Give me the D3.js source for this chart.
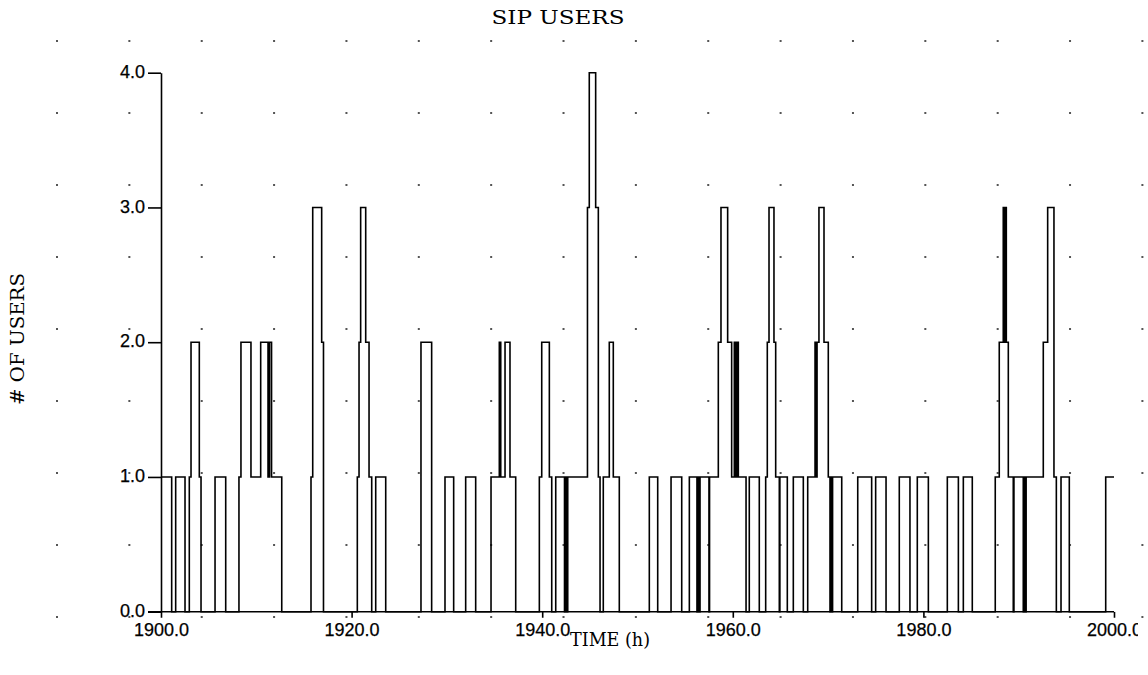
<!DOCTYPE html>
<html>
<head>
<meta charset="utf-8">
<script src="https://cdn.jsdelivr.net/npm/d3@7/dist/d3.min.js"></script>
<style>
  html, body { margin: 0; padding: 0; background: #fff; }
  svg { display: block; }
</style>
</head>
<body>
<svg id="chart" width="1148" height="675"></svg>
<script>
// ---- data ----
const titleText = "SIP USERS";
const xLabel = "TIME (h)";
const yLabel = "# OF USERS";
const xTicks = [1900, 1920, 1940, 1960, 1980, 2000];
const yTicks = [0, 1, 2, 3, 4];
const xDomain = [1900, 2000];
const yDomain = [0, 4];
// time at which the number of users changes, and the value from then on
const stepTime = [
  1900.00, 1901.12, 1901.54, 1902.52, 1902.97, 1903.15, 1904.02, 1904.20, 1905.67, 1906.79,
  1908.18, 1908.39, 1909.44, 1910.46, 1911.23, 1911.39, 1911.60, 1912.67, 1915.74, 1915.92,
  1916.86, 1917.05, 1920.60, 1920.78, 1920.95, 1921.48, 1921.83, 1922.11, 1922.53, 1923.58,
  1927.28, 1928.40, 1929.80, 1930.71, 1931.97, 1933.02, 1934.63, 1935.50, 1935.65, 1936.10,
  1936.62, 1937.22, 1939.70, 1939.95, 1940.75, 1941.00, 1941.42, 1942.34, 1942.47, 1942.57,
  1942.68, 1944.75, 1944.94, 1945.61, 1945.89, 1946.07, 1946.41, 1947.04, 1947.46, 1948.09,
  1951.24, 1952.12, 1953.52, 1954.64, 1955.44, 1956.24, 1956.37, 1956.47, 1956.56, 1957.50,
  1957.56, 1958.48, 1958.76, 1959.46, 1959.88, 1960.16, 1960.28, 1960.42, 1960.58, 1961.39,
  1961.73, 1962.78, 1963.45, 1963.62, 1963.80, 1964.32, 1964.50, 1964.88, 1964.94, 1965.72,
  1966.35, 1967.40, 1967.86, 1968.63, 1968.73, 1968.84, 1969.04, 1969.57, 1970.02, 1970.20,
  1970.31, 1970.41, 1970.47, 1971.43, 1973.11, 1974.57, 1974.99, 1976.08, 1977.47, 1978.59,
  1979.36, 1980.52, 1982.51, 1983.67, 1984.19, 1985.13, 1987.54, 1987.96, 1988.38, 1988.49,
  1988.59, 1988.70, 1988.91, 1989.43, 1989.50, 1990.48, 1990.59, 1990.69, 1990.78, 1992.58,
  1993.04, 1993.70, 1993.95, 1994.44, 1995.31, 1999.13, 2000.00
];
const stepUsers = [
  1, 0, 1, 0, 1, 2, 1, 0, 1, 0,
  1, 2, 1, 2, 1, 2, 1, 0, 1, 3,
  2, 0, 1, 2, 3, 2, 1, 0, 1, 0,
  2, 0, 1, 0, 1, 0, 1, 2, 1, 2,
  1, 0, 1, 2, 1, 0, 1, 0, 1, 0,
  1, 3, 4, 3, 1, 0, 1, 2, 1, 0,
  1, 0, 1, 0, 1, 0, 1, 0, 1, 0,
  1, 2, 3, 2, 1, 2, 1, 2, 1, 0,
  1, 0, 1, 2, 3, 2, 1, 0, 1, 0,
  1, 0, 1, 2, 1, 2, 3, 2, 1, 0,
  1, 0, 1, 0, 1, 0, 1, 0, 1, 0,
  1, 0, 1, 0, 1, 0, 1, 2, 3, 2,
  3, 2, 1, 0, 1, 0, 1, 0, 1, 2,
  3, 1, 0, 1, 0, 1, 1
];

// ---- layout ----
const svg = d3.select("#chart");
const W = 1148, H = 675;
const x = d3.scaleLinear().domain(xDomain).range([161, 1114]);
const y = d3.scaleLinear().domain(yDomain).range([611.7, 72.7]);

// background dot pattern
const dotX = d3.range(0, 16).map(i => 57 + i * 72.36);
const dotY = d3.range(0, 9).map(j => 41 + j * 72);
const dots = [];
dotX.forEach(dx => dotY.forEach(dy => dots.push([dx, dy])));
svg.append("g").selectAll("rect").data(dots).join("rect")
  .attr("x", d => d[0] - 1).attr("y", d => d[1] - 1)
  .attr("width", 2).attr("height", 2).attr("fill", "#555");

// clip for the x tick labels (reference is cut at the right)
svg.append("clipPath").attr("id", "clipR")
  .append("rect").attr("x", 0).attr("y", 0).attr("width", 1138).attr("height", H);

// step line
const data = stepTime.map((t, i) => ({ t, v: stepUsers[i] }));
const line = d3.line().x(d => x(d.t)).y(d => y(d.v)).curve(d3.curveStepAfter);
svg.append("path").datum(data)
  .attr("d", line)
  .attr("fill", "none").attr("stroke", "#000").attr("stroke-width", 1.6);

const tickFont = "'Liberation Sans', Arial, sans-serif";

// y axis
const yAxis = svg.append("g").attr("transform", `translate(${x(1900)},0)`)
  .call(d3.axisLeft(y).tickValues(yTicks).tickFormat(d3.format(".1f"))
    .tickSize(13).tickSizeOuter(0).tickPadding(3));
yAxis.select(".domain").attr("stroke", "#000").attr("stroke-width", 1.6);
yAxis.selectAll(".tick line").attr("stroke", "#000").attr("stroke-width", 1.6);
yAxis.selectAll(".tick text").attr("font-family", tickFont)
  .attr("font-size", 18).attr("fill", "#000").attr("dy", "0.26em")
  .attr("stroke", "#000").attr("stroke-width", 0.25);

// x axis
const xAxis = svg.append("g").attr("transform", `translate(0,${y(0)})`)
  .attr("clip-path", "url(#clipR)")
  .call(d3.axisBottom(x).tickValues(xTicks).tickFormat(d3.format(".1f"))
    .tickSize(6).tickSizeOuter(0).tickPadding(7));
xAxis.select(".domain").remove();
xAxis.selectAll(".tick line").attr("stroke", "#000").attr("stroke-width", 1.6);
xAxis.selectAll(".tick text").attr("font-family", tickFont)
  .attr("font-size", 18).attr("fill", "#000").attr("dy", "0.62em")
  .attr("stroke", "#000").attr("stroke-width", 0.25);
svg.append("line").attr("x1", x(1900) - 13).attr("x2", x(2000))
  .attr("y1", y(0)).attr("y2", y(0)).attr("stroke", "#000").attr("stroke-width", 1.6);

// title & axis labels
const serif = "'DejaVu Serif', 'Liberation Serif', serif";
svg.append("text").attr("x", 558).attr("y", 24).attr("text-anchor", "middle")
  .attr("font-family", serif).attr("font-size", 19)
  .attr("textLength", 133).attr("lengthAdjust", "spacingAndGlyphs")
  .text(titleText);
svg.append("text").attr("x", 610).attr("y", 646).attr("text-anchor", "middle")
  .attr("font-family", serif).attr("font-size", 19)
  .attr("textLength", 80).attr("lengthAdjust", "spacingAndGlyphs")
  .text(xLabel);
svg.append("text").attr("transform", "translate(24,339) rotate(-90)")
  .attr("text-anchor", "middle")
  .attr("font-family", serif).attr("font-size", 19)
  .attr("textLength", 132).attr("lengthAdjust", "spacingAndGlyphs")
  .text(yLabel);
</script>
</body>
</html>
